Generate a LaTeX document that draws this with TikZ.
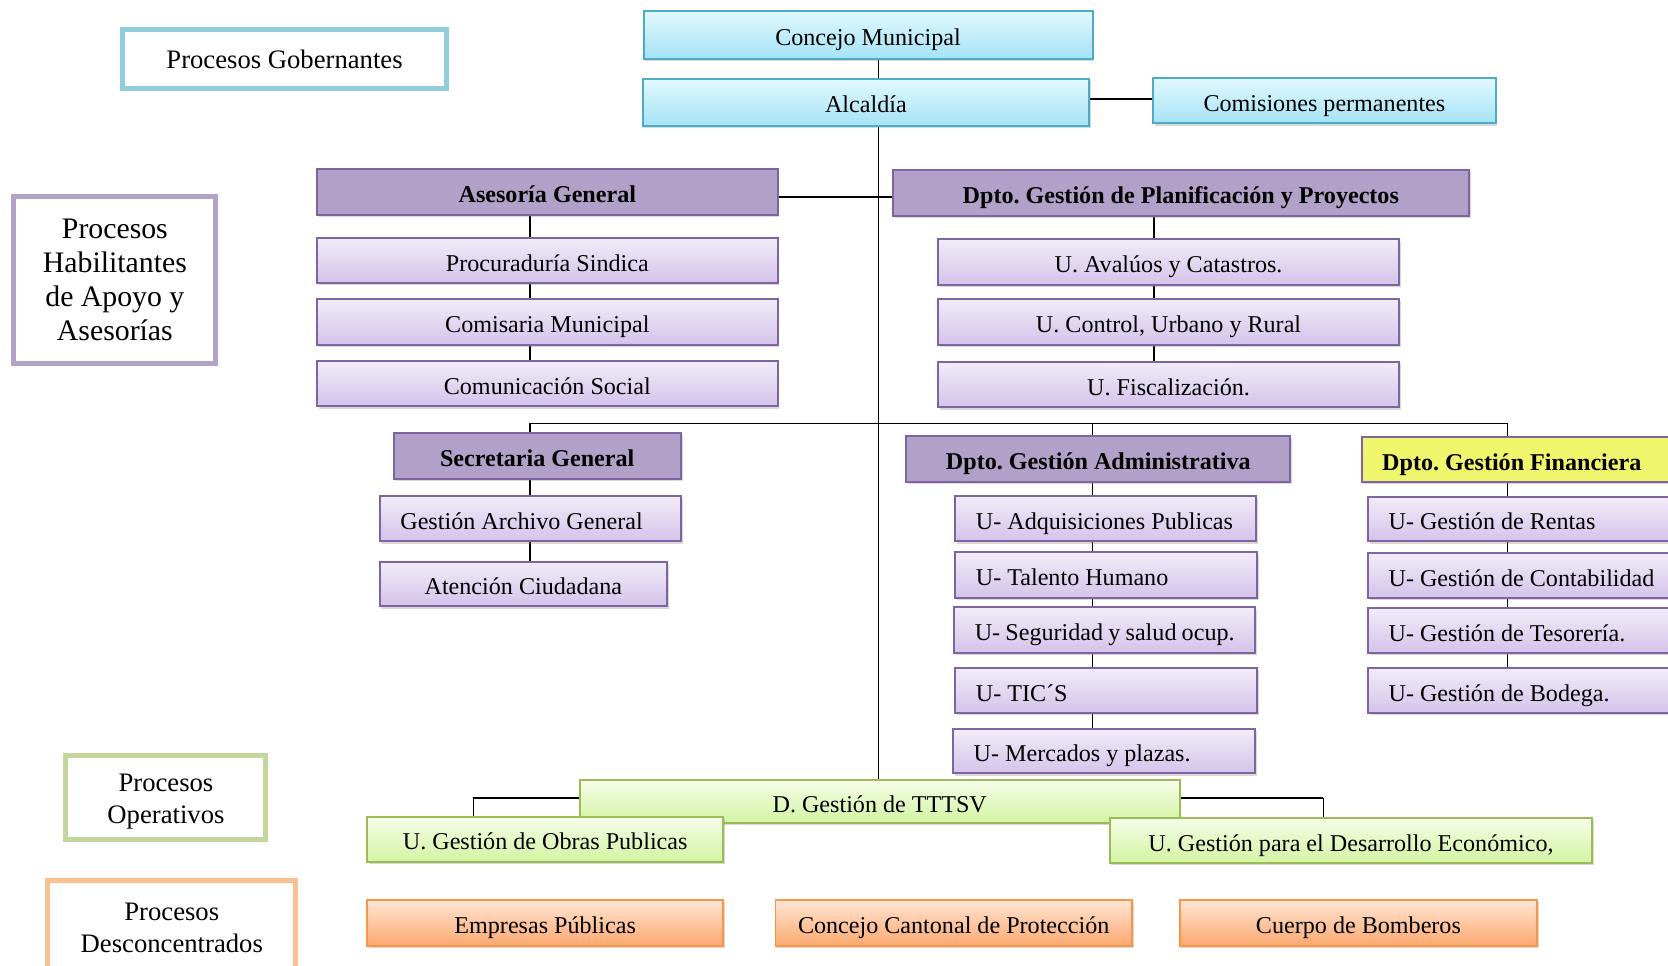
\documentclass[tikz,border=0pt]{standalone}
\usepackage{fontspec}
\setmainfont{Liberation Serif}
\usepackage{tikz}
\usepackage{xcolor}
\usetikzlibrary{shadows, backgrounds}

\definecolor{govline}{HTML}{92CDDC}
\definecolor{habline}{HTML}{B3A2C7}
\definecolor{opline}{HTML}{C3D69B}
\definecolor{desline}{HTML}{FAC090}
\definecolor{blueedge}{HTML}{4BACC6}
\definecolor{bluetop}{HTML}{E2F8FE}
\definecolor{bluebot}{HTML}{A5E3F6}
\definecolor{violedge}{HTML}{8064A2}
\definecolor{violhead}{HTML}{B1A0C7}
\definecolor{violtop}{HTML}{F1ECF8}
\definecolor{violbot}{HTML}{D3C3EA}
\definecolor{finfill}{HTML}{EFF66C}
\definecolor{greenedge}{HTML}{9BBB59}
\definecolor{greentop}{HTML}{F6FDE8}
\definecolor{greenbot}{HTML}{D2F4A2}
\definecolor{orangeedge}{HTML}{F79646}
\definecolor{orangetop}{HTML}{FFE6D5}
\definecolor{orangebot}{HTML}{FBA86E}

\tikzset{
    sz/.style 2 args={minimum width=#1*0.75pt, minimum height=#2*0.75pt},
    box/.style={draw, line width=1.4pt, inner sep=2pt, font=\fontsize{17}{20}\selectfont,
        text height=19.1pt, text depth=4.1pt,
        drop shadow={shadow xshift=1.2pt, shadow yshift=-1.6pt, opacity=0.3}},
    gov/.style={box, draw=blueedge, top color=bluetop, bottom color=bluebot},
    head/.style={box, draw=violedge, fill=violhead, font=\fontsize{17}{20}\selectfont\bfseries},
    unit/.style={box, draw=violedge, top color=violtop, bottom color=violbot},
    oper/.style={box, draw=greenedge, top color=greentop, bottom color=greenbot},
    desc/.style={box, draw=orangeedge, top color=orangetop, bottom color=orangebot},
    legend/.style={draw, line width=3.5pt, fill=white, align=center, font=\fontsize{18.8}{22.5}\selectfont},
    lft/.style={inner xsep=14.5pt, execute at begin node={\hbox to #1\bgroup}, execute at end node={\hfil\egroup}},
    link/.style={line width=1.1pt},
}

\begin{document}
\frenchspacing
\begin{tikzpicture}[x=0.75pt,y=0.75pt,yscale=-1,xscale=1]
    \useasboundingbox (0,0) rectangle (1568,908);
    \clip (0,0) rectangle (1568,908);

    % Legend
    \node[legend, draw=govline, sz={305}{55}] (leggov) at (267.5,55.5) {Procesos Gobernantes};
    \node[legend, draw=habline, sz={190}{157}, font=\fontsize{21}{24}\selectfont] (leghab) at (108,263) {Procesos\\Habilitantes\\de Apoyo y\\Asesorías};
    \node[legend, draw=opline, sz={188}{79}] (legop) at (156,749.5) {\rule{0pt}{19pt}Procesos\\Operativos};
    \node[legend, draw=desline, sz={233}{84}] (legdes) at (161.5,870) {\rule{0pt}{16pt}Procesos\\Desconcentrados};

    % Text Node
    \node[gov, sz={422}{45}] (concejo) at (816,32.5) {Concejo Municipal};
    \node[gov, sz={420}{44}] (alcaldia) at (814,96) {Alcaldía};
    \node[gov, sz={322}{43}] (comis) at (1245,94.5) {Comisiones permanentes};

    % Text Node
    \node[head, sz={433}{43}] (asesoria) at (514.5,180.5) {Asesoría General};
    \node[unit, sz={433}{42}] (procur) at (514.5,245) {Procuraduría Sindica};
    \node[unit, sz={433}{43}] (comisaria) at (514.5,302.5) {Comisaria Municipal};
    \node[unit, sz={433}{43}] (comsoc) at (514.5,360.5) {Comunicación Social};

    % Text Node
    \node[head, sz={542}{43}] (planif) at (1110,181.5) {Dpto. Gestión de Planificación y Proyectos};
    \node[unit, sz={433}{43}] (avaluos) at (1098.5,246.5) {U. Avalúos y Catastros.};
    \node[unit, sz={433}{43}] (control) at (1098.5,302.5) {U. Control, Urbano y Rural};
    \node[unit, sz={433}{43}] (fisc) at (1098.5,361.5) {U. Fiscalización.};

    % Text Node
    \node[head, sz={270}{43}] (secgen) at (505,428.5) {Secretaria General};
    \node[unit, sz={283}{43}, lft=183.2pt] (archivo) at (498.5,487.5) {Gestión Archivo General};
    \node[unit, sz={270}{42}] (atencion) at (492,549) {Atención Ciudadana};

    % Text Node
    \node[head, sz={361}{43}] (adm) at (1032.5,431.5) {Dpto. Gestión Administrativa};
    \node[unit, sz={283}{43}, lft=183.2pt] (adq) at (1039.5,487.5) {U- Adquisiciones Publicas};
    \node[unit, sz={284}{43}, lft=184pt] (talento) at (1040,540.5) {U- Talento Humano};
    \node[unit, sz={283}{43}, lft=183.2pt] (segur) at (1038.5,592.5) {U- Seguridad y salud ocup.};
    \node[unit, sz={284}{42}, lft=184pt] (tics) at (1040,649) {U- TIC´S};
    \node[unit, sz={284}{42}, lft=184pt] (merc) at (1038,706) {U- Mercados y plazas.};

    % Text Node
    \node[head, fill=finfill, sz={310}{42}, lft=203.5pt] (fin) at (1435,432) {Dpto. Gestión Financiera};
    \node[unit, sz={310}{42}, lft=203.5pt] (rentas) at (1441,488) {U- Gestión de Rentas};
    \node[unit, sz={310}{42}, lft=203.5pt] (contab) at (1441,541) {U- Gestión de Contabilidad};
    \node[unit, sz={310}{42}, lft=203.5pt] (tesor) at (1441,593) {U- Gestión de Tesorería.};
    \node[unit, sz={310}{42}, lft=203.5pt] (bodega) at (1441,649) {U- Gestión de Bodega.};

    % Text Node
    \node[oper, sz={564}{40}] (tttsv) at (827,753.5) {D. Gestión de TTTSV};
    \node[oper, sz={335}{42}] (obras) at (512.5,789) {U. Gestión de Obras Publicas};
    \node[oper, sz={454}{42}] (desarr) at (1270,790) {U. Gestión para el Desarrollo Económico,};

    % Text Node
    \node[desc, sz={335}{43}] (empresas) at (512.5,867.5) {Empresas Públicas};
    \node[desc, sz={335}{43}] (cantonal) at (896.5,867.5) {Concejo Cantonal de Protección};
    \node[desc, sz={336}{43}] (bomberos) at (1277,867.5) {Cuerpo de Bomberos};

    \coordinate (spine) at (826,398);
    \coordinate (comy) at (826,93);
    \coordinate (advy) at (826,185);
    \coordinate (habx) at (498,398);
    \coordinate (planx) at (1085,398);
    \coordinate (admx) at (1027,398);
    \coordinate (finx) at (1417,398);
    \coordinate (obx) at (445,750);
    \coordinate (dex) at (1244,750);

    \begin{scope}[on background layer]
        \fill[white] (0,0) rectangle (1568,908);
        % Connection
        \draw[link] (spine |- concejo.south) -- (spine |- tttsv.north);
        \draw[link] (alcaldia.east |- comy) -- (comis.west |- comy);
        \draw[link] (asesoria.east |- advy) -- (planif.west |- advy);
        % Connection
        \draw[link] (habx |- asesoria.south) -- (habx |- comsoc.north);
        \draw[link] (planx |- planif.south) -- (planx |- fisc.north);
        % Connection
        \draw[link] (habx |- secgen.north) -- (habx) -- (finx) -- (finx |- fin.north);
        \draw[link] (admx) -- (admx |- adm.north);
        \draw[link] (habx |- secgen.south) -- (habx |- atencion.north);
        \draw[link] (admx |- adm.south) -- (admx |- merc.north);
        \draw[link] (finx |- fin.south) -- (finx |- bodega.north);
        % Connection
        \draw[link, line width=1.8pt] (tttsv.west |- obx) -- (obx);
        \draw[link] (obx) -- (obx |- obras.north);
        \draw[link, line width=1.8pt] (tttsv.east |- dex) -- (dex);
        \draw[link] (dex) -- (dex |- desarr.north);
    \end{scope}
\end{tikzpicture}
\end{document}
